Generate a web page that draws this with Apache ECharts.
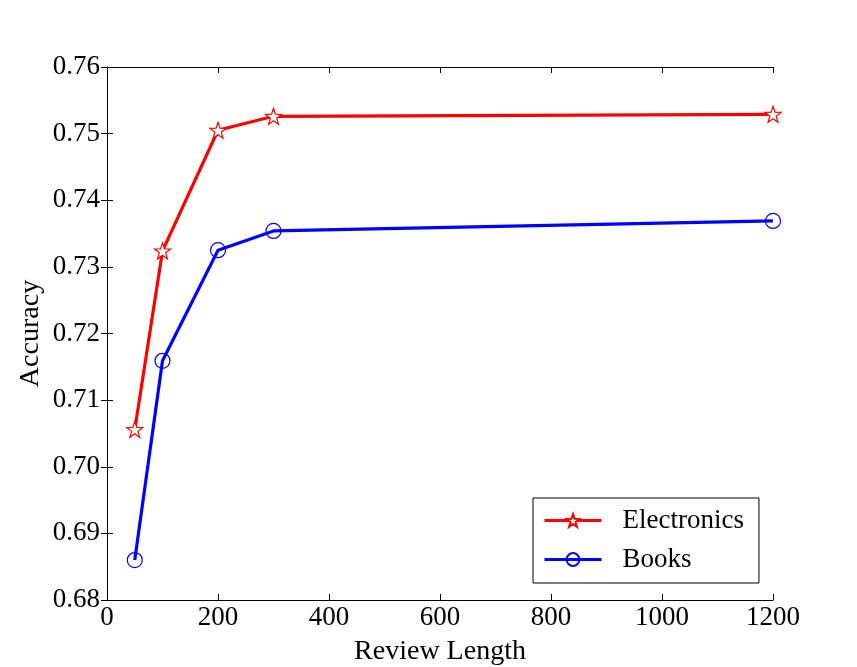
<!DOCTYPE html>
<html>
<head>
<meta charset="utf-8">
<script src="https://cdn.jsdelivr.net/npm/echarts@6/dist/echarts.min.js"></script>
<style>html,body{margin:0;padding:0;background:#fff;}#c{width:857px;height:667px;}</style>
</head>
<body>
<div id="c"></div>
<script>
var reviewLengths = [50, 100, 200, 300, 1200];
var electronics = [0.7056, 0.7324, 0.7505, 0.7526, 0.7529];
var books = [0.6860, 0.7159, 0.7325, 0.7354, 0.7369];
var seriesNames = ['Electronics', 'Books'];

var STAR = 'path://M0,-10 L2.35,-3.24 L9.51,-3.09 L3.80,1.24 L5.88,8.09 L0,4 L-5.88,8.09 L-3.80,1.24 L-9.51,-3.09 L-2.35,-3.24 Z';
function pairs(ys){ return reviewLengths.map(function(x,i){ return [x, ys[i]]; }); }
var font = 'Liberation Serif';
var tick = {show: true, inside: true, length: 6, lineStyle: {color: '#000'}};
var chart = echarts.init(document.getElementById('c'));
chart.setOption({
  animation: false,
  backgroundColor: '#fff',
  grid: {left: 107, right: 84, top: 67, bottom: 67, containLabel: false, outerBoundsMode: 'none'},
  legend: {
    orient: 'vertical', left: 533, top: 498,
    padding: [9, 15, 10, 10], itemGap: 12, itemWidth: 57, itemHeight: 16,
    borderColor: '#000', borderWidth: 1, borderRadius: 0, backgroundColor: '#fff',
    textStyle: {fontFamily: font, fontSize: 27, color: '#000', lineHeight: 27, padding: [0, 0, 0, 16]},
    lineStyle: {width: 3},
    data: seriesNames
  },
  xAxis: [{
    type: 'value', min: 0, max: 1200, interval: 200,
    name: 'Review Length', nameLocation: 'middle', nameGap: 38,
    nameTextStyle: {fontFamily: font, fontSize: 28, color: '#000'},
    axisLine: {show: true, lineStyle: {color: '#000', width: 1}},
    axisTick: tick,
    axisLabel: {fontFamily: font, fontSize: 27, color: '#000', margin: 4,
      formatter: function(v){ return String(v); }},
    splitLine: {show: false}
  }, {
    type: 'value', min: 0, max: 1200, interval: 200, position: 'top',
    axisLine: {show: true, lineStyle: {color: '#000', width: 1}},
    axisTick: tick, axisLabel: {show: false}, splitLine: {show: false}
  }],
  yAxis: [{
    type: 'value', min: 0.68, max: 0.76, interval: 0.01,
    name: 'Accuracy', nameLocation: 'middle', nameGap: 62, nameMoveOverlap: false,
    nameTextStyle: {fontFamily: font, fontSize: 28, color: '#000'},
    axisLine: {show: true, lineStyle: {color: '#000', width: 1}},
    axisTick: tick,
    axisLabel: {fontFamily: font, fontSize: 27, color: '#000', margin: 7,
      formatter: function(v){ return v.toFixed(2); }},
    splitLine: {show: false}
  }, {
    type: 'value', min: 0.68, max: 0.76, interval: 0.01, position: 'right',
    axisLine: {show: true, lineStyle: {color: '#000', width: 1}},
    axisTick: tick, axisLabel: {show: false}, splitLine: {show: false}
  }],
  series: [{
    name: seriesNames[0], type: 'line', data: pairs(electronics),
    symbol: STAR, symbolSize: 16, showAllSymbol: true,
    lineStyle: {color: '#ff0000', width: 3.2},
    itemStyle: {color: '#ffffff', borderColor: '#ff0000', borderWidth: 1.2},
    color: '#ff0000', z: 3
  }, {
    name: seriesNames[1], type: 'line', data: pairs(books),
    symbol: 'circle', symbolSize: 15, showAllSymbol: true,
    lineStyle: {color: '#0000ff', width: 3.2},
    itemStyle: {color: 'rgba(255,255,255,0)', borderColor: '#0000ff', borderWidth: 1.2},
    color: '#0000ff', z: 2
  }]
});
</script>
</body>
</html>
